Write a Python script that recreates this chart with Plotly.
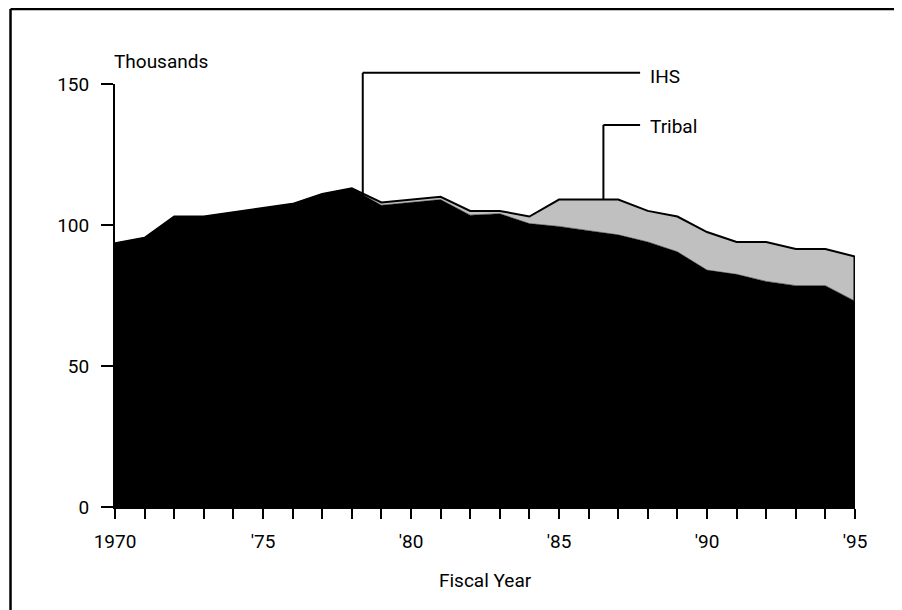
import plotly.graph_objects as go

years = list(range(1970, 1996))
ihs = [93.5, 95.5, 103, 103, 104.5, 106, 107.5, 111, 113, 107, 108, 109, 103.5, 104,
       100.5, 99.5, 98, 96.5, 94, 90.5, 84, 82.5, 80, 78.5, 78.5, 73]
tribal = [0, 0, 0, 0, 0, 0, 0, 0, 0, 1, 1, 1, 1.5, 1, 2.5, 9.5, 11, 12.5, 11, 12.5,
          13.5, 11.5, 14, 13, 13, 15.8]
tick_labels = {1970: "1970", 1975: "'75", 1980: "'80", 1985: "'85", 1990: "'90", 1995: "'95"}
y_ticks = [0, 50, 100, 150]

XR = [1970, 1995]
YR = [0, 150]
FONT = "Roboto, 'Liberation Sans', Arial, sans-serif"

def px(x):
    return (x - XR[0]) / (XR[1] - XR[0])

def py(y):
    return (y - YR[0]) / (YR[1] - YR[0])

total = [a + b for a, b in zip(ihs, tribal)]

fig = go.Figure()
fig.add_trace(go.Scatter(x=years, y=ihs, stackgroup="one", mode="lines",
                         line=dict(color="black", width=0.5), fillcolor="black",
                         hoverinfo="x+y", name="IHS"))
fig.add_trace(go.Scatter(x=years, y=tribal, stackgroup="one", mode="lines",
                         line=dict(color="black", width=2), fillcolor="#c0c0c0",
                         hoverinfo="x+y", name="Tribal"))
# right edge outline of the tribal band
fig.add_trace(go.Scatter(x=[years[-1], years[-1]], y=[ihs[-1], total[-1]], mode="lines",
                         line=dict(color="black", width=3), hoverinfo="skip"))

shapes = []
line = dict(color="black", width=2)
# frame (top and left edges)
fx, fy = -0.1412, 1.1773
frame = dict(color="black", width=2.5)
shapes.append(dict(type="line", xref="paper", yref="paper", x0=fx, x1=1.2, y0=fy, y1=fy, line=frame))
shapes.append(dict(type="line", xref="paper", yref="paper", x0=fx, x1=fx, y0=fy, y1=-0.4, line=frame))
# IHS leader
ihs_x, ihs_y, lab_x = 1978.37, 154, 1987.74
shapes.append(dict(type="line", xref="paper", yref="paper", x0=px(ihs_x), x1=px(ihs_x),
                   y0=py(ihs_y), y1=py(110), line=line))
shapes.append(dict(type="line", xref="paper", yref="paper", x0=px(ihs_x), x1=px(lab_x),
                   y0=py(ihs_y), y1=py(ihs_y), line=line))
# Tribal leader
tr_x, tr_y = 1986.5, 135.5
shapes.append(dict(type="line", xref="paper", yref="paper", x0=px(tr_x), x1=px(tr_x),
                   y0=py(tr_y), y1=py(total[16]), line=line))
shapes.append(dict(type="line", xref="paper", yref="paper", x0=px(tr_x), x1=px(lab_x),
                   y0=py(tr_y), y1=py(tr_y), line=line))

annotations = [
    dict(text="Thousands", xref="paper", yref="paper", x=-0.004, y=1.0527,
         xanchor="left", yanchor="middle", showarrow=False),
    dict(text="Fiscal Year", xref="paper", yref="paper", x=0.5, y=-0.1726,
         xanchor="center", yanchor="middle", showarrow=False),
    dict(text="IHS", xref="paper", yref="paper", x=px(lab_x) + 0.011, y=py(ihs_y) - 0.008,
         xanchor="left", yanchor="middle", showarrow=False),
    dict(text="Tribal", xref="paper", yref="paper", x=px(lab_x) + 0.011, y=py(tr_y) - 0.004,
         xanchor="left", yanchor="middle", showarrow=False),
]

fig.update_layout(
    width=894, height=602,
    margin=dict(l=107, r=47, t=76, b=103),
    paper_bgcolor="white", plot_bgcolor="white",
    showlegend=False,
    font=dict(family=FONT, size=19, color="black"),
    shapes=shapes, annotations=annotations,
    xaxis=dict(range=XR, tickmode="array", tickvals=years,
               ticktext=[tick_labels.get(y, "") for y in years],
               ticks="outside", ticklen=10, tickwidth=2, tickcolor="black",
               showline=True, linewidth=2, linecolor="black",
               showgrid=False, zeroline=False, ticklabelstandoff=6),
    yaxis=dict(range=YR, tickmode="array", tickvals=y_ticks,
               ticks="outside", ticklen=12, tickwidth=2, tickcolor="black",
               showline=True, linewidth=2, linecolor="black",
               showgrid=False, zeroline=False, ticklabelstandoff=8),
)

fig.write_html("out.html")
